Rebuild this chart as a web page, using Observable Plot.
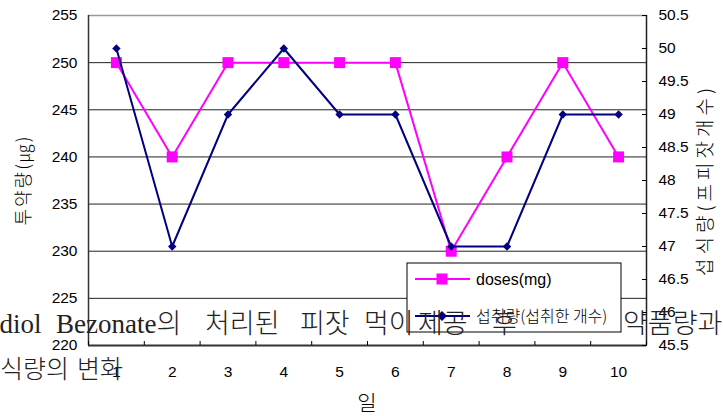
<!DOCTYPE html>
<html>
<head>
<meta charset="utf-8">
<script src="https://cdn.jsdelivr.net/npm/d3@7"></script>
<script src="https://cdn.jsdelivr.net/npm/@observablehq/plot@0.6"></script>
<style>
  html, body { margin: 0; padding: 0; background: #fff; }
  #wrap { position: relative; width: 723px; height: 416px; overflow: hidden; }
  #wrap > svg { position: absolute; left: 0; top: 0; }
</style>
</head>
<body>
<div id="wrap"></div>
<script>
// ---- data ----
const days = [1, 2, 3, 4, 5, 6, 7, 8, 9, 10];
const doses = [250, 240, 250, 250, 250, 250, 230, 240, 250, 240];   // left axis (투약량)
const intake = [50, 47, 49, 50, 49, 49, 47, 47, 49, 49];            // right axis (섭식량)
const leftTicks = [220, 225, 230, 235, 240, 245, 250, 255];
const rightTicks = [45.5, 46, 46.5, 47, 47.5, 48, 48.5, 49, 49.5, 50, 50.5];
const gridValues = [225, 230, 235, 240, 245, 250];
const seriesNames = ["doses(mg)", "섭취량(섭취한 개수)"];
const leftLabel = "투약량(㎍)";
const rightLabel = "섭식량(프피잣개수)";
const xLabel = "일";
const captionLine1 = ["Estradiol", "Bezonate의", "처리된", "피잣", "먹이", "제공", "후", "약품량과"];
const captionLine2 = ["섭식량의", "변화"];

// map right-axis values onto the left scale
const [lMin, lMax] = [220, 255];
const [rMin, rMax] = [45.5, 50.5];
const toLeft = v => lMin + (v - rMin) * (lMax - lMin) / (rMax - rMin);
const fromLeft = v => rMin + (v - lMin) * (rMax - rMin) / (lMax - lMin);

const doseData = days.map((d, i) => ({day: d, v: doses[i]}));
const intakeData = days.map((d, i) => ({day: d, v: intake[i]}));
const bounds = d3.range(0.5, 11, 1);

const MAG = "#FF00FF", NAVY = "#000080";

const chart = Plot.plot({
  width: 723, height: 416,
  marginLeft: 88, marginRight: 77, marginTop: 15, marginBottom: 71,
  x: {type: "linear", domain: [0.5, 10.5]},
  y: {domain: [lMin, lMax]},
  style: {fontFamily: "'Liberation Sans', Arial, sans-serif", fontSize: "15.5px", color: "#000", background: "#fff"},
  marks: [
    Plot.ruleY(gridValues, {stroke: "#222", strokeWidth: 1}),
    Plot.ruleY([lMax], {stroke: "#999", strokeWidth: 1.5}),
    Plot.ruleX([0.5], {stroke: "#333", strokeWidth: 1.5}),
    Plot.ruleX([10.5], {stroke: "#222", strokeWidth: 1.5}),
    Plot.ruleY([lMin], {stroke: "#333", strokeWidth: 2}),
    Plot.axisY({ticks: leftTicks, tickSize: 0, tickPadding: 11, label: null, tickFormat: d => String(d)}),
    Plot.axisY({anchor: "right", ticks: rightTicks.map(toLeft), tickSize: -5, tickPadding: 17, label: null,
      tickFormat: d => String(Math.round(fromLeft(d) * 10) / 10)}),
    Plot.axisX({ticks: days, tickSize: 0, tickPadding: 20, label: null, tickFormat: d => String(d)}),
    Plot.axisX({ticks: bounds, tickSize: -4, tickPadding: 0, label: null, tickFormat: () => ""}),
    Plot.line(doseData, {x: "day", y: "v", stroke: MAG, strokeWidth: 2}),
    Plot.dot(doseData, {x: "day", y: "v", symbol: "square", r: 6.2, fill: MAG, stroke: "none"}),
    Plot.line(intakeData, {x: "day", y: d => toLeft(d.v), stroke: NAVY, strokeWidth: 2}),
    Plot.dot(intakeData, {x: "day", y: d => toLeft(d.v), symbol: "diamond2", r: 3.8, fill: NAVY, stroke: "none"})
  ]
});

const wrap = document.getElementById("wrap");
wrap.appendChild(chart);

// ---- overlay: axis titles, legend, caption ----
const ov = d3.select(wrap).append("svg")
  .attr("width", 723).attr("height", 416)
  .style("font-family", "'Liberation Sans', Arial, 'Noto Sans CJK KR', sans-serif");

ov.append("text")
  .attr("transform", "translate(30,180) rotate(-90)")
  .attr("text-anchor", "middle")
  .attr("font-family", "'Noto Sans CJK KR', sans-serif")
  .attr("font-size", 18).attr("letter-spacing", 2).attr("font-weight", 300)
  .text(leftLabel);

ov.append("text")
  .attr("transform", "translate(712,180) rotate(-90)")
  .attr("text-anchor", "middle")
  .attr("font-family", "'Noto Sans CJK KR', sans-serif")
  .attr("font-size", 19).attr("letter-spacing", 4).attr("font-weight", 300)
  .text(rightLabel);

ov.append("text")
  .attr("x", 367).attr("y", 410)
  .attr("text-anchor", "middle")
  .attr("font-family", "'Noto Sans CJK KR', sans-serif")
  .attr("font-size", 21).attr("font-weight", 300)
  .text(xLabel);

// legend
const lg = ov.append("g");
lg.append("rect").attr("x", 407).attr("y", 263).attr("width", 214).attr("height", 69)
  .attr("fill", "#fff").attr("stroke", "#000").attr("stroke-width", 1);
const lgRows = [{y: 279, color: MAG, shape: "square"}, {y: 316, color: NAVY, shape: "diamond"}];
lgRows.forEach((r, i) => {
  lg.append("line").attr("x1", 415).attr("x2", 470).attr("y1", r.y).attr("y2", r.y)
    .attr("stroke", r.color).attr("stroke-width", 2);
  if (r.shape === "square") {
    lg.append("rect").attr("x", 442 - 5.5).attr("y", r.y - 5.5).attr("width", 11).attr("height", 11).attr("fill", r.color);
  } else {
    lg.append("path").attr("d", `M442,${r.y - 5}L447,${r.y}L442,${r.y + 5}L437,${r.y}Z`).attr("fill", r.color);
  }
  lg.append("text").attr("x", 476).attr("y", r.y).attr("dy", "0.35em")
    .attr("font-size", 16)
    .attr("font-family", i === 0 ? "'Liberation Sans', Arial, sans-serif" : "'Noto Sans CJK KR', sans-serif")
    .attr("font-weight", i === 0 ? 400 : 300)
    .text(seriesNames[i]);
});

// caption (overlaps the chart, as in the reference)
const capFont = "'Liberation Serif', 'Noto Sans CJK KR', serif";
const line1X = [-56, 56, 205, 300, 364, 418, 492, 623];
const c1 = ov.append("text").attr("y", 333).attr("font-size", 27).attr("font-family", capFont)
  .attr("font-weight", 300).attr("fill", "#222");
captionLine1.forEach((w, i) => c1.append("tspan").attr("x", line1X[i]).text(w));
const line2X = [-23, 77];
const c2 = ov.append("text").attr("y", 378).attr("font-size", 25).attr("font-family", capFont)
  .attr("font-weight", 300).attr("fill", "#222");
captionLine2.forEach((w, i) => c2.append("tspan").attr("x", line2X[i]).text(w));
</script>
</body>
</html>
